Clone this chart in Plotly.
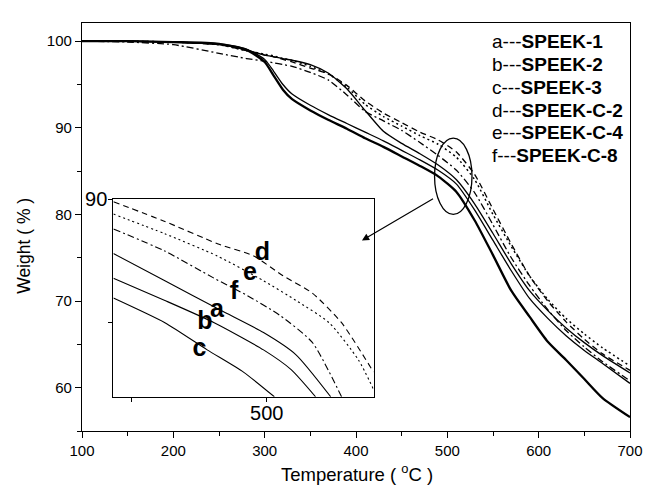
import plotly.graph_objects as go

# ---------------- data (main TGA curves) ----------------
temp = [100, 150, 200, 250, 280, 300, 310, 320, 330, 350, 370, 390, 410, 430,
        450, 470, 490, 510, 530, 550, 570, 590, 610, 630, 650, 670, 700]

w_a = [100.0, 100.0, 99.9, 99.6, 99.0, 98.4, 98.2, 98.0, 97.8, 97.3, 96.3, 94.5, 92.0, 89.6,
       88.2, 87.0, 85.7, 84.0, 81.2, 77.8, 74.3, 71.2, 68.9, 66.9, 65.2, 63.7, 61.7]
w_b = [100.0, 100.0, 99.9, 99.7, 99.1, 97.9, 96.5, 95.0, 93.9, 92.6, 91.5, 90.5, 89.5, 88.5,
       87.4, 86.3, 85.1, 83.5, 80.5, 77.0, 73.5, 70.3, 68.0, 66.0, 64.3, 62.8, 60.5]
w_c = [100.0, 100.0, 99.9, 99.7, 99.0, 97.6, 96.0, 94.4, 93.3, 92.0, 90.9, 89.9, 88.8, 87.8,
       86.7, 85.6, 84.4, 82.6, 79.3, 75.3, 71.2, 68.2, 65.3, 63.2, 61.0, 58.8, 56.6]
w_d = [100.0, 100.0, 99.9, 99.6, 98.9, 98.4, 98.2, 97.9, 97.6, 96.9, 96.2, 94.9, 93.1, 91.7,
       90.6, 89.5, 88.6, 87.2, 84.6, 80.6, 76.6, 72.9, 70.0, 67.6, 65.6, 63.9, 62.0]
w_e = [100.0, 100.0, 99.9, 99.6, 98.9, 98.5, 98.3, 98.0, 97.8, 97.1, 96.2, 94.7, 92.7, 91.3,
       90.2, 89.1, 88.1, 86.6, 84.0, 80.0, 76.3, 72.9, 70.2, 68.0, 66.2, 64.6, 62.5]
w_f = [100.0, 99.9, 99.6, 98.6, 98.0, 97.7, 97.5, 97.3, 97.1, 96.4, 95.5, 93.8, 91.9, 90.8,
       89.7, 88.3, 86.8, 85.1, 82.5, 78.8, 75.0, 71.8, 69.0, 66.6, 64.7, 63.0, 60.8]

# ---------------- data (inset, magnified region) ----------------
in_t_d = [471.7, 481.2, 490.9, 497.6, 503.0, 508.4, 513.8, 519.7]
in_w_d = [89.9, 89.1, 88.2, 87.7, 86.9, 86.2, 85.0, 83.0]
in_t_e = [471.7, 481.2, 490.9, 499.4, 505.4, 511.5, 516.9, 519.7]
in_w_e = [89.4, 88.6, 87.7, 86.7, 85.9, 85.0, 83.5, 82.3]
in_t_f = [471.7, 481.2, 490.3, 496.4, 502.4, 508.4, 513.8]
in_w_f = [88.8, 87.9, 86.8, 86.1, 85.3, 84.2, 82.0]
in_t_a = [471.7, 481.2, 491.5, 499.4, 505.4, 511.8]
in_w_a = [87.8, 86.7, 85.5, 84.6, 83.7, 82.0]
in_t_b = [471.7, 481.2, 490.3, 499.4, 504.5, 509.0]
in_w_b = [86.8, 85.9, 85.0, 83.9, 83.1, 82.0]
in_t_c = [471.7, 481.2, 489.0, 495.7, 501.4]
in_w_c = [86.0, 85.0, 83.9, 83.0, 82.0]

letters = ["d", "e", "f", "a", "b", "c"]
letter_t = [499.2, 496.9, 494.0, 490.8, 488.6, 487.6]
letter_w = [87.8, 87.0, 86.2, 85.5, 85.0, 83.9]

legend_keys = ["a", "b", "c", "d", "e", "f"]
legend_names = ["SPEEK-1", "SPEEK-2", "SPEEK-3", "SPEEK-C-2", "SPEEK-C-4", "SPEEK-C-8"]

x_ticks = [100, 200, 300, 400, 500, 600, 700]
y_ticks = [60, 70, 80, 90, 100]

FONT = "Arial, Liberation Sans, sans-serif"
DASH = {"solid": "solid", "dash": "6px,4px", "dot": "2px,3px", "dashdot": "7px,3px,2px,3px"}

fig = go.Figure()

main_series = [
    (w_a, "solid", 1.3), (w_b, "solid", 1.3), (w_c, "solid", 2.3),
    (w_d, "dash", 1.3), (w_e, "dot", 1.5), (w_f, "dashdot", 1.3),
]
for ys, ds, lw in main_series:
    fig.add_trace(go.Scatter(x=temp, y=ys, mode="lines", xaxis="x", yaxis="y",
                             line=dict(color="black", width=lw, dash=DASH[ds],
                                       shape="spline", smoothing=0.6),
                             showlegend=False, hoverinfo="skip"))

inset_series = [
    (in_t_d, in_w_d, "dash"), (in_t_e, in_w_e, "dot"), (in_t_f, in_w_f, "dashdot"),
    (in_t_a, in_w_a, "solid"), (in_t_b, in_w_b, "solid"), (in_t_c, in_w_c, "solid"),
]
for xs, ys, ds in inset_series:
    fig.add_trace(go.Scatter(x=xs, y=ys, mode="lines", xaxis="x2", yaxis="y2",
                             line=dict(color="black", width=1.1, dash=DASH[ds],
                                       shape="spline", smoothing=0.6),
                             showlegend=False, hoverinfo="skip"))

fig.add_trace(go.Scatter(x=letter_t, y=letter_w, mode="text", text=letters,
                         xaxis="x2", yaxis="y2", textposition="middle center",
                         textfont=dict(family=FONT, size=25, color="black", weight="bold"),
                         showlegend=False, hoverinfo="skip"))

axis_common = dict(showgrid=False, zeroline=False, showline=True, mirror=True,
                   linecolor="black", linewidth=1.2, ticks="outside",
                   tickcolor="black", tickwidth=1.2,
                   tickfont=dict(family=FONT, size=15, color="black"))

fig.update_layout(
    width=655, height=496,
    margin=dict(l=82, r=15, t=14, b=65),
    paper_bgcolor="white", plot_bgcolor="white",
    xaxis=dict(axis_common, range=[100, 700], tickvals=x_ticks, ticklen=6,
               minor=dict(dtick=50, tick0=100, ticklen=4, ticks="outside", tickcolor="black"),
               domain=[0, 1], anchor="y"),
    yaxis=dict(axis_common, range=[55, 102.1], tickvals=y_ticks, ticklen=6,
               minor=dict(dtick=5, tick0=60, ticklen=4, ticks="outside", tickcolor="black"),
               domain=[0, 1], anchor="x"),
    xaxis2=dict(axis_common, range=[471.7, 519.7], dtick=50, tick0=500, ticklen=4,
                tickfont=dict(family=FONT, size=20, color="black"),
                ticklabelstandoff=-6,
                minor=dict(dtick=25, tick0=500, ticklen=4, ticks="outside", tickcolor="black"),
                domain=[0.0573, 0.532], anchor="y2"),
    yaxis2=dict(axis_common, range=[82, 90], dtick=10, tick0=90, ticklen=4,
                tickfont=dict(family=FONT, size=20, color="black"),
                ticklabelstandoff=-3,
                minor=dict(dtick=5, tick0=90, ticklen=4, ticks="outside", tickcolor="black"),
                domain=[0.0839, 0.568], anchor="x2"),
    showlegend=False,
)

# ellipse highlighting the magnified region
fig.add_shape(type="circle", xref="x", yref="y", x0=486, x1=527, y0=80.0, y1=88.8,
              line=dict(color="black", width=1.3))

# arrow from ellipse to inset
fig.add_annotation(x=406.5, y=77.0, ax=486, ay=81.9, xref="x", yref="y",
                   axref="x", ayref="y", text="", showarrow=True,
                   arrowhead=2, arrowsize=1.2, arrowwidth=1.2, arrowcolor="black")

# legend text block
for i, (k, name) in enumerate(zip(legend_keys, legend_names)):
    fig.add_annotation(x=0.7437, y=0.954 - i * 0.0559, xref="paper", yref="paper",
                       xanchor="left", yanchor="middle", showarrow=False,
                       text=f"{k}---<b>{name}</b>",
                       font=dict(family=FONT, size=19, color="black"))

# axis titles
fig.add_annotation(x=0.502, y=-0.104, xref="paper", yref="paper", showarrow=False,
                   xanchor="center", yanchor="middle",
                   text="Temperature ( <sup>o</sup>C )",
                   font=dict(family=FONT, size=18.5, color="black"))
fig.add_annotation(x=-0.105, y=0.455, xref="paper", yref="paper", showarrow=False,
                   xanchor="center", yanchor="middle", textangle=-90,
                   text="Weight ( % )",
                   font=dict(family=FONT, size=17.5, color="black"))

fig.write_html(
    "out.html",
    config={"displayModeBar": False},
    post_script="document.body.style.margin='0';document.body.style.overflow='hidden';",
)
